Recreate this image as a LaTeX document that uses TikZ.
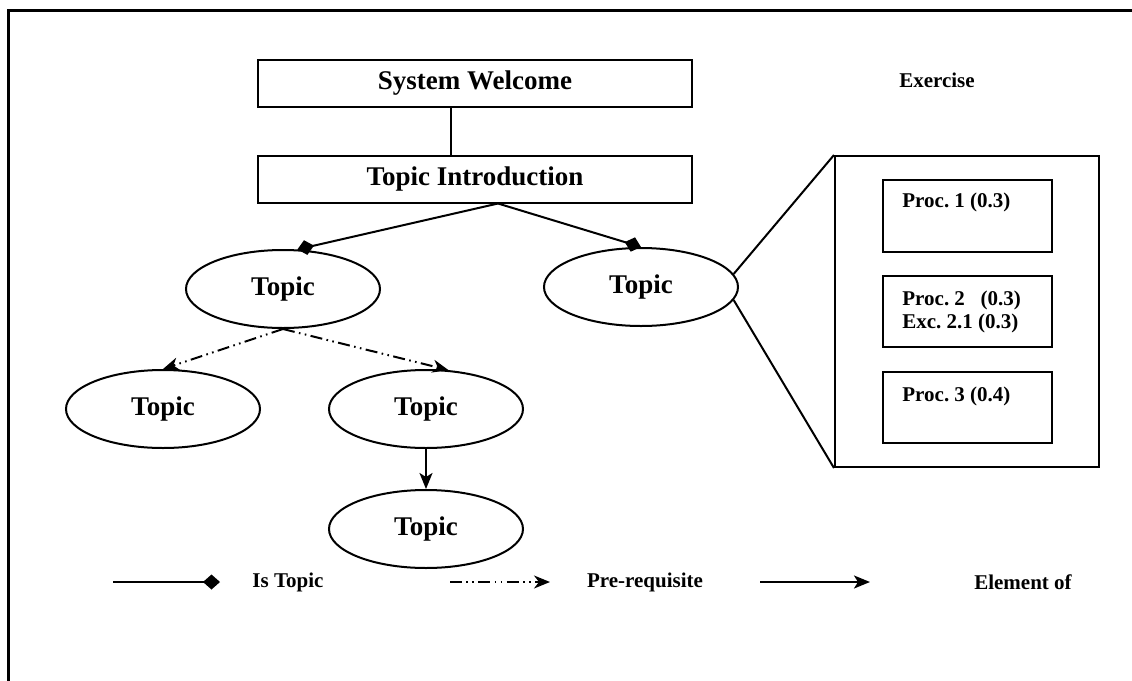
\documentclass[tikz,border=0pt]{standalone}
\usepackage{fontspec}
\setmainfont{Liberation Serif}
\usetikzlibrary{arrows.meta,shapes,positioning}

\begin{document}
\begin{tikzpicture}[
    x=0.5pt, y=-0.5pt,
    >=Stealth,
    bigtext/.style={font=\fontsize{13.5}{16}\selectfont\bfseries},
    smalltext/.style={font=\fontsize{10.5}{12.5}\selectfont\bfseries, inner sep=0pt},
    headbox/.style={draw, line width=1pt, minimum width=217pt, minimum height=23.5pt, inner sep=0pt, bigtext},
    topic/.style={draw, ellipse, line width=1pt, minimum width=97pt, minimum height=39pt, inner sep=0pt, bigtext},
    procbox/.style={draw, line width=1pt, minimum width=84.5pt, minimum height=36pt, inner sep=0pt},
    istopic/.style={line width=1pt, -{Diamond[length=8.5pt,width=7.5pt]}},
    prereq/.style={line width=1pt, dash pattern=on 6pt off 2.2pt on 0.8pt off 2.2pt on 0.8pt off 2.2pt,
                   -{Stealth[length=8pt,width=6.5pt,inset=2.5pt]}},
    element/.style={line width=1pt, -{Stealth[length=8pt,width=6.5pt,inset=2pt]}}
]
\useasboundingbox (0,0) rectangle (1132,681);

% outer frame, open at right and bottom
\draw[line width=1.5pt] (8,690) |- (1140,10);

% two head boxes
\node[headbox] (sw) at (475,83)  {System Welcome};
\node[headbox] (ti) at (475,179) {Topic Introduction};
\coordinate (swout) at ([xshift=-12pt]sw.south);
\coordinate (tiin)  at ([xshift=-12pt]ti.north);
\coordinate (tiout) at ([xshift=11.5pt]ti.south);

% topics
\node[topic] (ta)   at (283,289) {Topic};   % left upper
\node[topic] (tb)   at (641,287) {Topic};   % right upper
\node[topic] (tl)   at (163,409) {Topic};   % left
\node[topic] (tm)   at (426,409) {Topic};   % middle
\node[topic] (tbot) at (426,529) {Topic};   % bottom

% exercise panel
\node[smalltext] (exlabel) at (937,80) {Exercise};
\node[draw, line width=1pt, minimum width=132pt, minimum height=155.5pt, inner sep=0pt] (ex) at (967,311.5) {};
\node[procbox] (p1) at (967.5,215.5) {};
\node[procbox, minimum height=35.5pt] (p2) at (967.5,311.5) {};
\node[procbox, minimum height=35.5pt] (p3) at (967.5,407.5) {};
\node[smalltext, anchor=west] (p1t) at ([xshift=10pt,yshift=-12pt]p1.north west) {Proc.~1 (0.3)};
\node[smalltext, anchor=north west, align=left] (p2t) at ([xshift=10pt,yshift=-8pt]p2.north west)
    {Proc.~2\hspace{0.75em}(0.3)\\[-1pt] Exc.~2.1 (0.3)};
\node[smalltext, anchor=west] (p3t) at ([xshift=10pt,yshift=-12.5pt]p3.north west) {Proc.~3 (0.4)};

% connectors
\draw[line width=1pt] (swout) -- (tiin);
\draw[istopic] (tiout) -- (ta.70);
\draw[istopic] (tiout) -- (tb.north);
\draw[prereq] (ta.south) -- (tl.north);
\draw[prereq] (ta.south) -- (tm.60);
\draw[element] (tm.south) -- (tbot.north);

% zoom lines to the panel
\draw[line width=1pt] (tb.8)  -- (ex.north west);
\draw[line width=1pt] (tb.-8) -- (ex.south west);

% legend
\coordinate (l1a) at (113,582);
\coordinate (l1b) at (220,582);
\coordinate (l2a) at (450,582);
\coordinate (l2b) at (550,582);
\coordinate (l3a) at (760,582);
\coordinate (l3b) at (870,582);
\draw[istopic] (l1a) -- (l1b);
\draw[prereq]  (l2a) -- (l2b);
\draw[element] (l3a) -- (l3b);
\node[smalltext] (lg1) at (288,582)  {Is Topic};
\node[smalltext] (lg2) at (645,582)  {Pre-requisite};
\node[smalltext] (lg3) at (1023,582) {Element of};

\end{tikzpicture}
\end{document}
